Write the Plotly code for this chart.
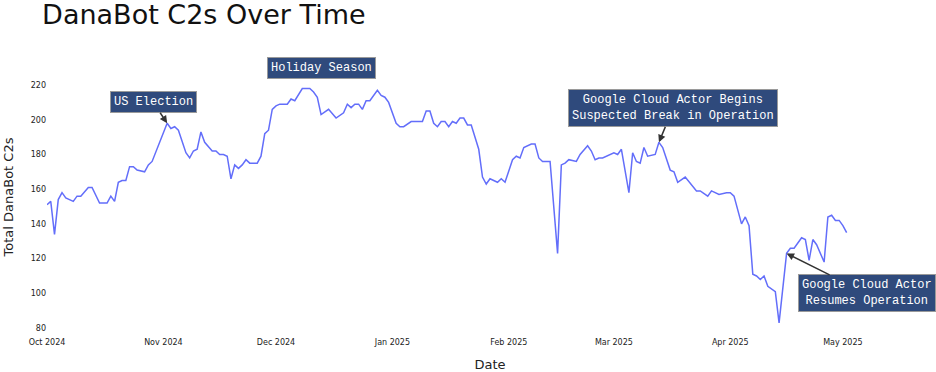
import plotly.graph_objects as go

dates = [
    "2024-10-01", "2024-10-02", "2024-10-03", "2024-10-04", "2024-10-05", "2024-10-06",
    "2024-10-08", "2024-10-09", "2024-10-10", "2024-10-12", "2024-10-13", "2024-10-15",
    "2024-10-17", "2024-10-18", "2024-10-19", "2024-10-20", "2024-10-21", "2024-10-22",
    "2024-10-23", "2024-10-24", "2024-10-25", "2024-10-27", "2024-10-28", "2024-10-29",
    "2024-11-02", "2024-11-03", "2024-11-04", "2024-11-05", "2024-11-07", "2024-11-08",
    "2024-11-09", "2024-11-10", "2024-11-11", "2024-11-12", "2024-11-14", "2024-11-15",
    "2024-11-16", "2024-11-17", "2024-11-18", "2024-11-19", "2024-11-20", "2024-11-21",
    "2024-11-22", "2024-11-23", "2024-11-24", "2024-11-26", "2024-11-27", "2024-11-28",
    "2024-11-29", "2024-11-30", "2024-12-01", "2024-12-02", "2024-12-04", "2024-12-05",
    "2024-12-06", "2024-12-08", "2024-12-10", "2024-12-11", "2024-12-12", "2024-12-13",
    "2024-12-15", "2024-12-17", "2024-12-19", "2024-12-20", "2024-12-21", "2024-12-22",
    "2024-12-23", "2024-12-24", "2024-12-25", "2024-12-26", "2024-12-28", "2024-12-29",
    "2024-12-30", "2024-12-31", "2025-01-02", "2025-01-03", "2025-01-04", "2025-01-06",
    "2025-01-09", "2025-01-10", "2025-01-11", "2025-01-12", "2025-01-13", "2025-01-14",
    "2025-01-15", "2025-01-16", "2025-01-17", "2025-01-18", "2025-01-19", "2025-01-20",
    "2025-01-21", "2025-01-22", "2025-01-24", "2025-01-25", "2025-01-26", "2025-01-27",
    "2025-01-29", "2025-01-30", "2025-01-31", "2025-02-01", "2025-02-02", "2025-02-03",
    "2025-02-04", "2025-02-05", "2025-02-07", "2025-02-08", "2025-02-09", "2025-02-10",
    "2025-02-12", "2025-02-14", "2025-02-15", "2025-02-16", "2025-02-17", "2025-02-19",
    "2025-02-20", "2025-02-22", "2025-02-23", "2025-02-24", "2025-02-25", "2025-02-26",
    "2025-02-28", "2025-03-01", "2025-03-02", "2025-03-03", "2025-03-05", "2025-03-06",
    "2025-03-07", "2025-03-08", "2025-03-09", "2025-03-10", "2025-03-12", "2025-03-13",
    "2025-03-14", "2025-03-16", "2025-03-17", "2025-03-18", "2025-03-20", "2025-03-22",
    "2025-03-23", "2025-03-24", "2025-03-26", "2025-03-27", "2025-03-29", "2025-03-31",
    "2025-04-01", "2025-04-02", "2025-04-04", "2025-04-05", "2025-04-06", "2025-04-07",
    "2025-04-08", "2025-04-09", "2025-04-10", "2025-04-11", "2025-04-13", "2025-04-14",
    "2025-04-16", "2025-04-17", "2025-04-18", "2025-04-20", "2025-04-21", "2025-04-22",
    "2025-04-23", "2025-04-24", "2025-04-26", "2025-04-27", "2025-04-28", "2025-04-29",
    "2025-04-30", "2025-05-01", "2025-05-02",
]

c2_counts = [
    151, 153, 134, 154, 158, 155,
    153, 156, 156, 161, 161, 152,
    152, 156, 153, 164, 165, 165,
    173, 173, 171, 170, 174, 176,
    198, 195, 196, 194, 181, 178,
    182, 183, 193, 187, 182, 182,
    180, 180, 179, 166, 174, 172,
    174, 177, 175, 175, 179, 192,
    194, 206, 208, 209, 209, 212,
    211, 218, 218, 216, 213, 203,
    206, 201, 204, 209, 207, 209,
    209, 206, 211, 211, 217, 214,
    213, 210, 198, 196, 196, 199,
    199, 205, 205, 198, 196, 199,
    199, 196, 199, 198, 201, 201,
    197, 197, 183, 167, 163, 166,
    164, 166, 164, 170, 177, 179,
    178, 184, 186, 186, 178, 176,
    176, 123, 174, 175, 177, 176,
    180, 185, 182, 177, 178, 178,
    180, 181, 180, 183, 158, 181,
    176, 175, 184, 179, 180, 187,
    184, 171, 170, 164, 167, 162,
    159, 159, 156, 159, 157, 158,
    158, 156, 140, 144, 139, 111,
    110, 108, 110, 104, 101, 83,
    123, 126, 126, 132, 131, 119,
    131, 128, 118, 144, 145, 142,
    142, 139, 135,
]

y_ticks = [80, 100, 120, 140, 160, 180, 200, 220]
x_range = ["2024-10-01", "2025-05-25"]
y_range = [75.4, 235.6]

ann_text = [
    "US Election",
    "Holiday Season",
    "Google Cloud Actor Begins<br>Suspected Break in Operation",
    "Google Cloud Actor<br>Resumes Operation",
]
ann_x = ["2024-11-02", "2024-12-13", "2025-03-13", "2025-04-16"]
ann_y = [198, 230, 187, 123]
ann_arrow = [True, False, True, True]
ann_ax = [-14, 0, 14, 80]
ann_ay = [-21, 0, -34, 40]

fig = go.Figure()
fig.add_trace(go.Scatter(
    x=dates, y=c2_counts, mode="lines",
    line=dict(color="#636efa", width=1.5),
    showlegend=False,
))

for t, x, y, sa, ax, ay in zip(ann_text, ann_x, ann_y, ann_arrow, ann_ax, ann_ay):
    fig.add_annotation(
        x=x, y=y, xref="x", yref="y", text=t, showarrow=sa,
        ax=ax, ay=ay, arrowhead=2, arrowsize=1, arrowwidth=1.5, arrowcolor="#333333",
        font=dict(family="Courier New, Liberation Mono, monospace", size=12, color="white"),
        bgcolor="#2f4a7c", bordercolor="#9a9a9a", borderwidth=1, borderpad=3,
        align="center",
    )

fig.update_layout(
    width=936, height=372,
    margin=dict(l=47, r=3, t=58, b=36),
    paper_bgcolor="white", plot_bgcolor="white",
    font=dict(family="Verdana, DejaVu Sans, sans-serif", color="#222222"),
    title=dict(text="DanaBot C2s Over Time", x=0.045, xanchor="left",
               y=0.962, yanchor="middle",
               font=dict(size=27, color="#111111")),
    xaxis=dict(
        range=x_range, showgrid=False, zeroline=False, showline=False,
        tickformat="%b %Y", dtick="M1", tick0="2024-10-01",
        tickfont=dict(size=8),
        title=dict(text="Date", font=dict(size=13), standoff=14),
    ),
    yaxis=dict(
        range=y_range, showgrid=False, zeroline=False, showline=False,
        tickvals=y_ticks, tickfont=dict(size=8),
        title=dict(text="Total DanaBot C2s", font=dict(size=13), standoff=14),
    ),
)

fig.write_html("out.html")
